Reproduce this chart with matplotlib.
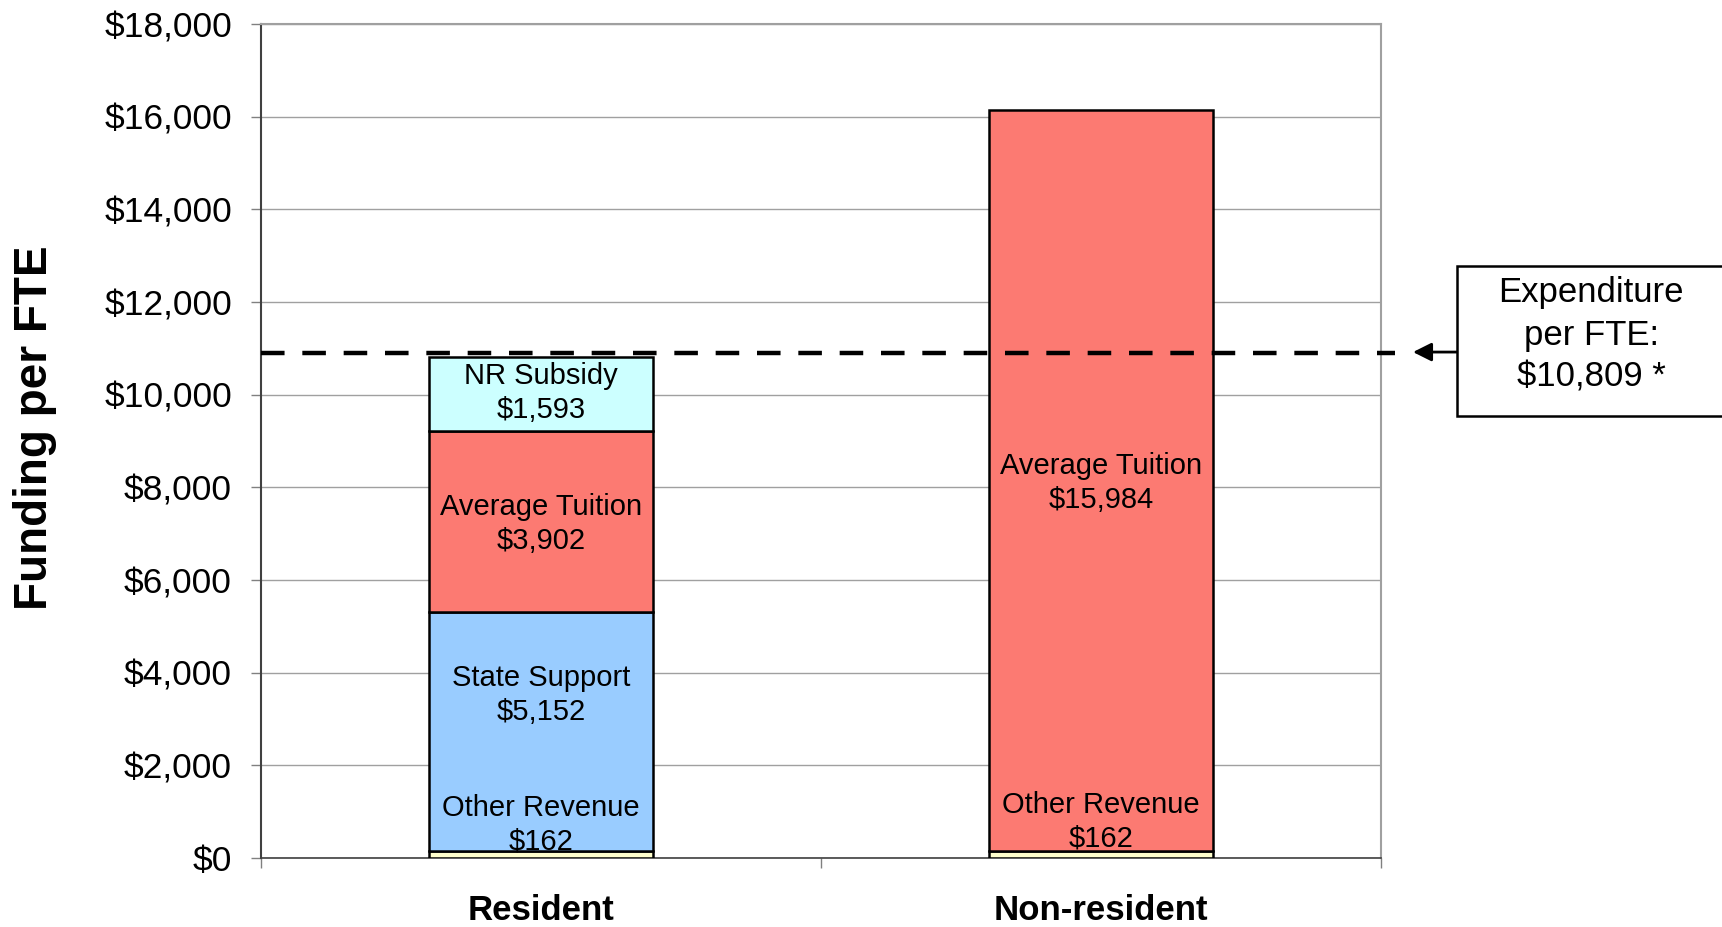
import matplotlib
matplotlib.use("Agg")
import matplotlib.pyplot as plt
from matplotlib.patches import Rectangle
import numpy as np

plt.rcParams['font.family'] = ['Liberation Sans', 'DejaVu Sans']

categories = ["Resident", "Non-resident"]
segment_names = ["Other Revenue", "State Support", "Average Tuition", "NR Subsidy"]
resident_values = [162, 5152, 3902, 1593]
nonresident_values = [162, 0, 15984, 0]
segment_colors = ["#FFFFCC", "#99CCFF", "#FC7A72", "#CCFFFF"]
expenditure = 10809
expenditure_line_level = 10900
y_ticks = list(range(0, 18001, 2000))

fig = plt.figure(figsize=(17.22, 9.27), dpi=100)
ax = fig.add_axes([0.1516, 0.0744, 0.6504, 0.8997])

data = [resident_values, nonresident_values]
x = np.arange(len(categories))
width = 0.40
bottoms = np.zeros(len(categories))
for i, name in enumerate(segment_names):
    vals = np.array([d[i] for d in data], dtype=float)
    for j in range(len(categories)):
        if vals[j] > 0:
            ax.bar(x[j], vals[j], width, bottom=bottoms[j], color=segment_colors[i],
                   edgecolor="black", linewidth=1.8, zorder=3)
    bottoms += vals

fs_lab = 21
def seg_label(xi, ycenter, name, val):
    ax.text(xi, ycenter, f"{name}\n${val:,}", ha="center", va="center",
            fontsize=fs_lab, linespacing=1.25, zorder=5)

# Resident labels
r = resident_values
seg_label(x[0], r[0] + r[1] + r[2] + r[3] / 2 + 20, segment_names[3], r[3])
seg_label(x[0], r[0] + r[1] + r[2] / 2 - 60, segment_names[2], r[2])
seg_label(x[0], 3520, segment_names[1], r[1])
seg_label(x[0], 720, segment_names[0], r[0])
# Non-resident labels
n = nonresident_values
seg_label(x[1], n[0] + n[2] / 2 - 60, segment_names[2], n[2])
seg_label(x[1], 790, segment_names[0], n[0])

ax.set_xlim(-0.5, 1.5)
ax.set_ylim(0, 18000)
ax.set_yticks(y_ticks)
ax.set_yticklabels([f"${v:,}" for v in y_ticks], fontsize=25.5)
ax.set_xticks(x)
ax.set_xticklabels(categories, fontsize=25, fontweight="bold")
ax.set_xticks([-0.5, 0.5, 1.5], minor=True)
ax.tick_params(axis="x", which="major", length=0, pad=26)
ax.tick_params(axis="x", which="minor", length=7, width=1, color="#808080")
ax.tick_params(axis="y", length=7, width=1, color="#808080", pad=14)

ax.grid(axis="y", color="#A0A0A0", linewidth=1.0, zorder=0)
ax.set_axisbelow(True)
for s in ["top", "right"]:
    ax.spines[s].set_color("#A0A0A0")
    ax.spines[s].set_linewidth(1.5)
ax.spines["left"].set_color("#404040")
ax.spines["left"].set_linewidth(1.5)
ax.spines["bottom"].set_color("#404040")
ax.spines["bottom"].set_linewidth(1.2)

ax.set_ylabel("Funding per FTE", fontsize=33, fontweight="bold", va="center")
ax.yaxis.set_label_coords(-0.2018, 0.516)

# Dashed expenditure line (extends slightly beyond axes)
ax.plot([-0.5, 1.525], [expenditure_line_level, expenditure_line_level],
        color="black", linewidth=3.2, linestyle=(0, (5.3, 4.0)), zorder=6,
        clip_on=False, solid_capstyle="butt", dash_capstyle="butt")

# Arrow from box
ax.annotate("", xy=(1413 / 1722, expenditure_line_level + 20),
            xycoords=("figure fraction", "data"),
            xytext=(1488 / 1722, expenditure_line_level + 20),
            textcoords=("figure fraction", "data"),
            arrowprops=dict(arrowstyle="-|>", color="black", lw=2,
                            mutation_scale=28, shrinkA=0, shrinkB=0),
            annotation_clip=False)

# Annotation box
box = Rectangle((1457 / 1722, 1 - 416 / 927), 0.2, 150 / 927,
                transform=fig.transFigure, facecolor="white",
                edgecolor="black", linewidth=1.8, clip_on=False)
fig.patches.append(box)
fig.text(1591 / 1722, 1 - 335 / 927, f"Expenditure\nper FTE:\n${expenditure:,} *",
         ha="center", va="center", fontsize=25, linespacing=1.35)

fig.savefig("out.png", dpi=100)
